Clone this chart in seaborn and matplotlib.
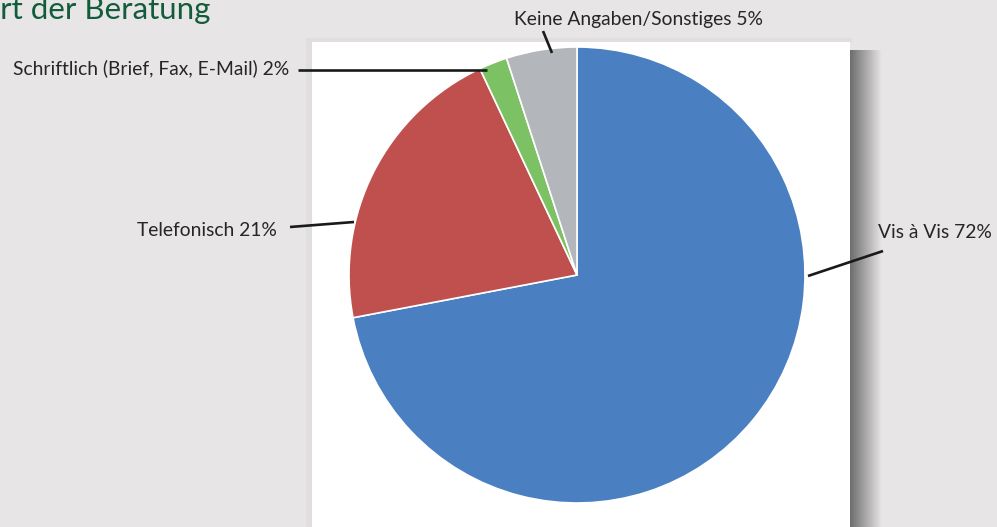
import numpy as np
import matplotlib
matplotlib.use("Agg")
import matplotlib.pyplot as plt
from matplotlib.patches import Rectangle
from matplotlib.colors import LinearSegmentedColormap
import seaborn as sns

# Data
categories = ["Vis à Vis", "Telefonisch", "Schriftlich (Brief, Fax, E-Mail)", "Keine Angaben/Sonstiges"]
shares = [72, 21, 2, 5]
colors = ["#4a7fc1", "#c0504d", "#7cc264", "#b3b6bb"]
title = "Art der Beratung"

sns.set_theme(style="white")
plt.rcParams["font.family"] = ["Lato", "DejaVu Sans"]

W, H = 997, 527
BG = "#e7e5e6"
fig = plt.figure(figsize=(W / 100, H / 100), dpi=100, facecolor=BG)
ax = fig.add_axes([0, 0, 1, 1])
ax.set_facecolor(BG)

def Y(y):
    return H - y

# card shadow on the right edge
grad = np.linspace(0, 1, 64)[None, :]
shade = LinearSegmentedColormap.from_list("shade", ["#666666", "#a6a5a6", BG])
ax.imshow(grad, cmap=shade, extent=(848, 882, Y(H), Y(50)), aspect="auto", zorder=1,
          interpolation="bicubic")
# faint shadow on the left/top edge
ax.add_patch(Rectangle((306, Y(H)), 7, H - 38, color="#e0dedf", zorder=1, lw=0))
ax.add_patch(Rectangle((306, Y(42)), 546, 4, color="#e0dedf", zorder=1, lw=0))
# white card
ax.add_patch(Rectangle((312, Y(H + 5)), 538, H + 5 - 42, facecolor="white", lw=0, zorder=2))

# pie
cx, cy, r = 577, 275, 228
wedges, _ = ax.pie(shares, colors=colors, startangle=90, counterclock=False,
                   center=(cx, Y(cy)), radius=r, frame=True,
                   wedgeprops=dict(edgecolor="white", linewidth=1.2))
for w in wedges:
    w.set_zorder(3)
ax.set_xlim(0, W)
ax.set_ylim(0, H)
ax.set_aspect("equal")
ax.axis("off")

# labels with leader lines
labels = [f"{c} {s}%" for c, s in zip(categories, shares)]
label_pos = [(878, 233, "left"), (277, 230, "right"), (289, 68, "right"), (639, 20, "center")]
leaders = [((808, 276), (883, 251)), ((354, 222), (290, 227)),
           ((487, 70), (298, 70)), ((552, 53), (543, 31))]
for lab, (tx, ty, ha), (p0, p1) in zip(labels, label_pos, leaders):
    ax.text(tx, Y(ty), lab, ha=ha, va="center", fontsize=13.9, color="#262626", zorder=5)
    ax.plot([p0[0], p1[0]], [Y(p0[1]), Y(p1[1])], color="#1a1a1a", lw=1.9, zorder=5,
            solid_capstyle="butt")

# section title, its first letter runs past the left edge
ax.text(-21, Y(19), title, ha="left", va="baseline", fontsize=22.5, color="#135c3b",
        zorder=5)

fig.savefig("out.png", dpi=100, facecolor=fig.get_facecolor())
